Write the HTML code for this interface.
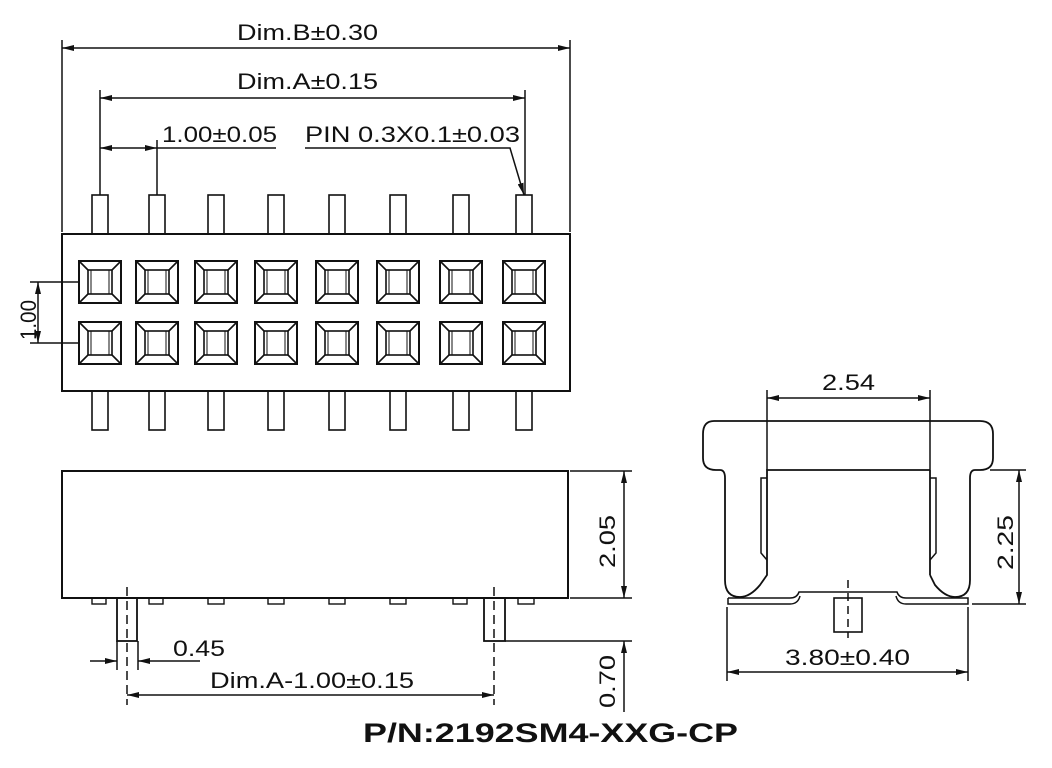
<!DOCTYPE html>
<html><head><meta charset="utf-8"><style>
html,body{margin:0;padding:0;background:#fff;}
svg{display:block;}
text{font-family:"Liberation Sans",sans-serif;fill:#111;}
</style></head><body>
<svg width="1052" height="768" viewBox="0 0 1052 768" xmlns="http://www.w3.org/2000/svg">
<defs>
<marker id="a" viewBox="0 0 12 6" refX="12" refY="3" markerWidth="12" markerHeight="6" orient="auto-start-reverse" markerUnits="userSpaceOnUse"><path d="M0,0L12,3L0,6z" fill="#111"/></marker>
<g id="s"><rect x="-21" y="-21" width="42" height="42" stroke-width="2"/><rect x="-12" y="-12" width="24" height="24"/><rect x="-9" y="-12" width="18" height="24" stroke-width="1"/><path d="M-21,-21L-12,-12M21,-21L12,-12M-21,21L-12,12M21,21L12,12"/></g>
</defs>
<g stroke="#111" stroke-width="1.5" fill="none">
<line x1="62" y1="40" x2="62" y2="232"/><line x1="570" y1="40" x2="570" y2="232"/>
<line x1="62" y1="48" x2="570" y2="48" marker-start="url(#a)" marker-end="url(#a)"/>
<line x1="100" y1="90" x2="100" y2="195"/><line x1="525" y1="90" x2="525" y2="195"/>
<line x1="100" y1="98" x2="525" y2="98" marker-start="url(#a)" marker-end="url(#a)"/>
<line x1="157" y1="140" x2="157" y2="195"/>
<line x1="100" y1="148" x2="157" y2="148" marker-start="url(#a)" marker-end="url(#a)"/>
<line x1="157" y1="148" x2="276" y2="148"/>
<polyline points="305,148 510,148 524,195" marker-end="url(#a)"/>
<rect x="62" y="234" width="508" height="157" stroke-width="2"/>
<g stroke-width="1.6">
<rect x="92" y="195" width="16" height="39"/><rect x="149" y="195" width="16" height="39"/><rect x="208" y="195" width="16" height="39"/><rect x="268" y="195" width="16" height="39"/><rect x="329" y="195" width="16" height="39"/><rect x="390" y="195" width="16" height="39"/><rect x="453" y="195" width="16" height="39"/><rect x="516" y="195" width="16" height="39"/>
<rect x="92" y="391" width="16" height="39"/><rect x="149" y="391" width="16" height="39"/><rect x="208" y="391" width="16" height="39"/><rect x="268" y="391" width="16" height="39"/><rect x="329" y="391" width="16" height="39"/><rect x="390" y="391" width="16" height="39"/><rect x="453" y="391" width="16" height="39"/><rect x="516" y="391" width="16" height="39"/>
</g>
<line x1="30" y1="282" x2="80" y2="282"/><line x1="30" y1="343" x2="80" y2="343"/>
<line x1="38" y1="282" x2="38" y2="343" marker-start="url(#a)" marker-end="url(#a)"/>
<rect x="62" y="471" width="506" height="127" stroke-width="2"/>
<g stroke-width="1.4">
<rect x="92" y="598" width="14" height="6"/><rect x="149" y="598" width="14" height="6"/><rect x="208" y="598" width="16" height="6"/><rect x="268" y="598" width="16" height="6"/><rect x="329" y="598" width="16" height="6"/><rect x="390" y="598" width="16" height="6"/><rect x="453" y="598" width="14" height="6"/><rect x="518" y="598" width="16" height="6"/>
</g>
<rect x="117" y="598" width="20" height="43" stroke-width="1.8"/>
<rect x="484" y="598" width="21" height="43" stroke-width="1.8"/>
<line x1="127" y1="587" x2="127" y2="705" stroke-dasharray="9,5"/>
<line x1="494" y1="587" x2="494" y2="705" stroke-dasharray="9,5"/>
<line x1="117" y1="641" x2="117" y2="670"/><line x1="138" y1="641" x2="138" y2="670"/>
<line x1="90" y1="661" x2="117" y2="661" marker-end="url(#a)"/>
<line x1="200" y1="661" x2="138" y2="661" marker-end="url(#a)"/>
<line x1="127" y1="695" x2="494" y2="695" marker-start="url(#a)" marker-end="url(#a)"/>
<line x1="570" y1="471" x2="632" y2="471"/><line x1="570" y1="598" x2="632" y2="598"/>
<line x1="624" y1="471" x2="624" y2="598" marker-start="url(#a)" marker-end="url(#a)"/>
<line x1="505" y1="641" x2="632" y2="641"/>
<line x1="624" y1="712" x2="624" y2="641" marker-end="url(#a)"/>
<path d="M714,421 H980 Q993,421 993,434 V458 Q993,470 980,470 H975 Q970,470 970,478 V580 Q970,597 955,597 Q945,597 935,585 L930,575 M930,470 V575" stroke-width="1.8"/>
<path d="M714,421 Q703,421 703,434 V458 Q703,470 716,470 H720 Q725,470 725,478 V580 Q725,597 740,597 Q750,597 760,585 L767,575 V470 H930" stroke-width="1.8"/>
<path d="M767,478 L761,478 V553 L767,560 M930,478 L936,478 V553 L930,560"/>
<path d="M728,598 H790 Q797,598 799,592 H897 Q899,598 906,598 H968 V604 H906 Q898,604 896,596 M728,598 V604 H790 Q798,604 800,596" stroke-width="1.5"/>
<rect x="834" y="598" width="28" height="34" stroke-width="1.6"/>
<line x1="848" y1="580" x2="848" y2="638" stroke-dasharray="8,5"/>
<line x1="767" y1="390" x2="767" y2="470"/><line x1="930" y1="390" x2="930" y2="470"/>
<line x1="767" y1="398" x2="930" y2="398" marker-start="url(#a)" marker-end="url(#a)"/>
<line x1="990" y1="470" x2="1026" y2="470"/><line x1="972" y1="604" x2="1026" y2="604"/>
<line x1="1019" y1="470" x2="1019" y2="604" marker-start="url(#a)" marker-end="url(#a)"/>
<line x1="727" y1="607" x2="727" y2="681"/><line x1="968" y1="607" x2="968" y2="681"/>
<line x1="727" y1="672" x2="968" y2="672" marker-start="url(#a)" marker-end="url(#a)"/>
</g>
<g stroke="#111" fill="none" stroke-width="1.6">
<use href="#s" x="100" y="282"/><use href="#s" x="157" y="282"/><use href="#s" x="216" y="282"/><use href="#s" x="276" y="282"/><use href="#s" x="337" y="282"/><use href="#s" x="398" y="282"/><use href="#s" x="461" y="282"/><use href="#s" x="524" y="282"/>
<use href="#s" x="100" y="343"/><use href="#s" x="157" y="343"/><use href="#s" x="216" y="343"/><use href="#s" x="276" y="343"/><use href="#s" x="337" y="343"/><use href="#s" x="398" y="343"/><use href="#s" x="461" y="343"/><use href="#s" x="524" y="343"/>
</g>
<g font-size="22">
<text x="237" y="40" textLength="141" lengthAdjust="spacingAndGlyphs">Dim.B±0.30</text>
<text x="237" y="89" textLength="141" lengthAdjust="spacingAndGlyphs">Dim.A±0.15</text>
<text x="162" y="142" textLength="115" lengthAdjust="spacingAndGlyphs">1.00±0.05</text>
<text x="305" y="142" textLength="215" lengthAdjust="spacingAndGlyphs">PIN 0.3X0.1±0.03</text>
<text x="173" y="656" textLength="52" lengthAdjust="spacingAndGlyphs">0.45</text>
<text x="210" y="688" textLength="204" lengthAdjust="spacingAndGlyphs">Dim.A-1.00±0.15</text>
<text x="822" y="390" textLength="53" lengthAdjust="spacingAndGlyphs">2.54</text>
<text x="785" y="665" textLength="125" lengthAdjust="spacingAndGlyphs">3.80±0.40</text>
<text transform="translate(36,340) rotate(-90)" textLength="40" lengthAdjust="spacingAndGlyphs">1.00</text>
<text transform="translate(615,568) rotate(-90)" textLength="53" lengthAdjust="spacingAndGlyphs">2.05</text>
<text transform="translate(615,708) rotate(-90)" textLength="53" lengthAdjust="spacingAndGlyphs">0.70</text>
<text transform="translate(1013,570) rotate(-90)" textLength="55" lengthAdjust="spacingAndGlyphs">2.25</text>
</g>
<text x="363" y="742" font-size="27" font-weight="bold" textLength="375" lengthAdjust="spacingAndGlyphs">P/N:2192SM4-XXG-CP</text>
</svg>
</body></html>
